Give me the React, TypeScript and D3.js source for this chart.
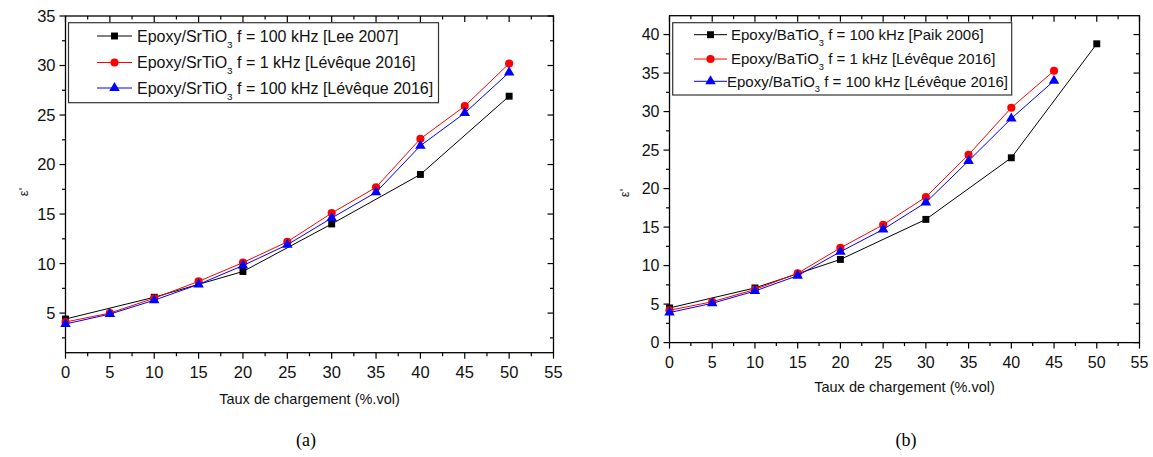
import React from 'react';
import * as d3 from 'd3';

// ---------- data ----------
const xTickValues = [0, 5, 10, 15, 20, 25, 30, 35, 40, 45, 50, 55];

// (a) Epoxy/SrTiO3
const loadingLeeA = [0, 10, 20, 30, 40, 50];
const epsLee2007 = [4.4, 6.6, 9.2, 14.0, 19.0, 26.9];
const loadingLevA = [0, 5, 10, 15, 20, 25, 30, 35, 40, 45, 50];
const epsSrLev1k = [4.1, 5.0, 6.5, 8.2, 10.1, 12.2, 15.1, 17.7, 22.6, 25.9, 30.2];
const epsSrLev100k = [3.9, 4.9, 6.3, 7.9, 9.8, 11.9, 14.6, 17.2, 21.9, 25.2, 29.3];
const yTicksA = [5, 10, 15, 20, 25, 30, 35];

// (b) Epoxy/BaTiO3
const loadingPaikB = [0, 10, 20, 30, 40, 50];
const epsPaik2006 = [4.5, 7.1, 10.8, 16.0, 24.0, 38.8];
const loadingLevB = [0, 5, 10, 15, 20, 25, 30, 35, 40, 45];
const epsBaLev1k = [4.2, 5.3, 6.9, 9.0, 12.3, 15.3, 18.9, 24.4, 30.5, 35.3];
const epsBaLev100k = [3.9, 5.1, 6.7, 8.7, 11.8, 14.7, 18.2, 23.6, 29.1, 34.0];
const yTicksB = [0, 5, 10, 15, 20, 25, 30, 35, 40];

const legendA = [
  { pre: 'Epoxy/SrTiO', post: ' f = 100 kHz [Lee 2007]' },
  { pre: 'Epoxy/SrTiO', post: ' f = 1 kHz [Lévêque 2016]' },
  { pre: 'Epoxy/SrTiO', post: ' f = 100 kHz [Lévêque 2016]' },
];
const legendB = [
  { pre: 'Epoxy/BaTiO', post: ' f = 100 kHz [Paik 2006]' },
  { pre: 'Epoxy/BaTiO', post: ' f = 1 kHz [Lévêque 2016]' },
  { pre: 'Epoxy/BaTiO', post: ' f = 100 kHz [Lévêque 2016]' },
];

const xTitle = 'Taux de chargement (%.vol)';
const yTitle = "ε'";

// ---------- styles ----------
const SANS = "Arial, 'Liberation Sans', Helvetica, sans-serif";
const seriesStyles = [
  { color: '#000000', symbol: d3.symbolSquare, size: 48 },
  { color: '#ff0000', symbol: d3.symbolCircle, size: 52 },
  { color: '#0000ff', symbol: d3.symbolTriangle, size: 48 },
];

type Series = { xs: number[]; ys: number[] };

type PanelProps = {
  x0: number; x1: number; y0: number; y1: number;
  yDomain: [number, number];
  yTicks: number[];
  series: Series[];
  legend: { pre: string; post: string }[];
  legendBox: { x: number; y: number; w: number; h: number };
  legendRows: number[];
  legendLine: [number, number];
  legendTextX: number[];
  legendFont: number;
  tickFont: number;
  xTitleY: number;
  yTitlePos: [number, number];
  caption: string;
  captionX: number;
};

function Panel(p: PanelProps) {
  const x = d3.scaleLinear().domain([0, 55]).range([p.x0, p.x1]);
  const y = d3.scaleLinear().domain(p.yDomain).range([p.y1, p.y0]);
  const line = d3.line<[number, number]>().x(d => x(d[0])).y(d => y(d[1]));
  const majorLen = 6;
  const minorLen = 3.5;
  const xMinor = d3.range(2.5, 55, 5);
  const yMinor = d3.range(2.5, p.yDomain[1], 5).filter(v => v > p.yDomain[0] && v < p.yDomain[1]);
  const ticksCol = '#000';
  const midX = (p.x0 + p.x1) / 2;
  return (
    <g>
      <rect x={p.x0} y={p.y0} width={p.x1 - p.x0} height={p.y1 - p.y0} fill="none" stroke="#000" strokeWidth={1.3} />
      {xTickValues.map(v => (
        <g key={'xt' + v}>
          <line x1={x(v)} x2={x(v)} y1={p.y1} y2={p.y1 + majorLen} stroke={ticksCol} strokeWidth={1.2} />
          <line x1={x(v)} x2={x(v)} y1={p.y0} y2={p.y0 + majorLen} stroke={ticksCol} strokeWidth={1.2} />
          <text x={x(v)} y={p.y1 + 25} textAnchor="middle" fontFamily={SANS} fontSize={p.tickFont} fill="#111">{v}</text>
        </g>
      ))}
      {xMinor.map(v => (
        <g key={'xm' + v}>
          <line x1={x(v)} x2={x(v)} y1={p.y1} y2={p.y1 + minorLen} stroke={ticksCol} strokeWidth={1.2} />
          <line x1={x(v)} x2={x(v)} y1={p.y0} y2={p.y0 + minorLen} stroke={ticksCol} strokeWidth={1.2} />
        </g>
      ))}
      {p.yTicks.map(v => (
        <g key={'yt' + v}>
          <line x1={p.x0 - majorLen} x2={p.x0} y1={y(v)} y2={y(v)} stroke={ticksCol} strokeWidth={1.2} />
          <line x1={p.x1 - majorLen} x2={p.x1} y1={y(v)} y2={y(v)} stroke={ticksCol} strokeWidth={1.2} />
          <text x={p.x0 - majorLen - 4} y={y(v)} dy="0.36em" textAnchor="end" fontFamily={SANS} fontSize={p.tickFont} fill="#111">{v}</text>
        </g>
      ))}
      {yMinor.map(v => (
        <g key={'ym' + v}>
          <line x1={p.x0 - minorLen} x2={p.x0} y1={y(v)} y2={y(v)} stroke={ticksCol} strokeWidth={1.2} />
          <line x1={p.x1 - minorLen} x2={p.x1} y1={y(v)} y2={y(v)} stroke={ticksCol} strokeWidth={1.2} />
        </g>
      ))}
      {p.series.map((s, i) => {
        const pts: [number, number][] = s.xs.map((xv, j) => [xv, s.ys[j]]);
        const st = seriesStyles[i];
        const sym = d3.symbol().type(st.symbol).size(st.size)();
        return (
          <g key={'s' + i}>
            <path d={line(pts) || ''} fill="none" stroke={st.color} strokeWidth={1} />
            {pts.map((pt, j) => (
              <path key={j} d={sym || ''} transform={`translate(${x(pt[0])},${y(pt[1])})`} fill={st.color} />
            ))}
          </g>
        );
      })}
      <rect x={p.legendBox.x} y={p.legendBox.y} width={p.legendBox.w} height={p.legendBox.h} fill="#fff" stroke="#333" strokeWidth={1.2} />
      {p.legend.map((l, i) => {
        const st = seriesStyles[i];
        const cy = p.legendRows[i];
        const sym = d3.symbol().type(st.symbol).size(st.size)();
        const mx = (p.legendLine[0] + p.legendLine[1]) / 2;
        return (
          <g key={'lg' + i}>
            <line x1={p.legendLine[0]} x2={p.legendLine[1]} y1={cy} y2={cy} stroke={st.color} strokeWidth={1} />
            <path d={sym || ''} transform={`translate(${mx},${cy})`} fill={st.color} />
            <text x={p.legendTextX[i]} y={cy} dy="0.36em" fontFamily={SANS} fontSize={p.legendFont} fill="#111">
              {l.pre}
              <tspan fontSize={p.legendFont * 0.62} dy={p.legendFont * 0.38}>3</tspan>
              <tspan dy={-p.legendFont * 0.38}>{l.post}</tspan>
            </text>
          </g>
        );
      })}
      <text x={midX} y={p.xTitleY} textAnchor="middle" fontFamily={SANS} fontSize={14.5} fill="#111">{xTitle}</text>
      <text transform={`translate(${p.yTitlePos[0]},${p.yTitlePos[1]}) rotate(-90)`} textAnchor="middle" dy="0.36em" fontFamily={SANS} fontSize={13} fill="#111">{yTitle}</text>
      <text x={p.captionX} y={446} textAnchor="middle" fontFamily="'Times New Roman', 'Liberation Serif', serif" fontSize={18} fill="#000">{p.caption}</text>
    </g>
  );
}

export default function App() {
  return (
    <svg width={1153} height={457} style={{ position: 'absolute', left: 0, top: 0, background: '#fff' }}>
      <rect width={1153} height={457} fill="#fff" />
      <Panel
        x0={65.5} x1={553.5} y0={16} y1={352.7}
        yDomain={[1, 35]}
        yTicks={yTicksA}
        series={[
          { xs: loadingLeeA, ys: epsLee2007 },
          { xs: loadingLevA, ys: epsSrLev1k },
          { xs: loadingLevA, ys: epsSrLev100k },
        ]}
        legend={legendA}
        legendBox={{ x: 68.5, y: 22.7, w: 370, h: 80 }}
        legendRows={[36, 62.5, 88]}
        legendLine={[97, 132]}
        legendTextX={[137, 137, 137]}
        legendFont={16}
        tickFont={16.5}
        xTitleY={404}
        yTitlePos={[23, 192]}
        caption="(a)"
        captionX={306}
      />
      <Panel
        x0={669.5} x1={1139.5} y0={15.7} y1={342.6}
        yDomain={[0, 42.45]}
        yTicks={yTicksB}
        series={[
          { xs: loadingPaikB, ys: epsPaik2006 },
          { xs: loadingLevB, ys: epsBaLev1k },
          { xs: loadingLevB, ys: epsBaLev100k },
        ]}
        legend={legendB}
        legendBox={{ x: 672.7, y: 22.7, w: 339, h: 72.3 }}
        legendRows={[34.7, 59, 81.3]}
        legendLine={[694, 727]}
        legendTextX={[731, 731, 727]}
        legendFont={15}
        tickFont={16}
        xTitleY={392}
        yTitlePos={[624, 193]}
        caption="(b)"
        captionX={906}
      />
    </svg>
  );
}
